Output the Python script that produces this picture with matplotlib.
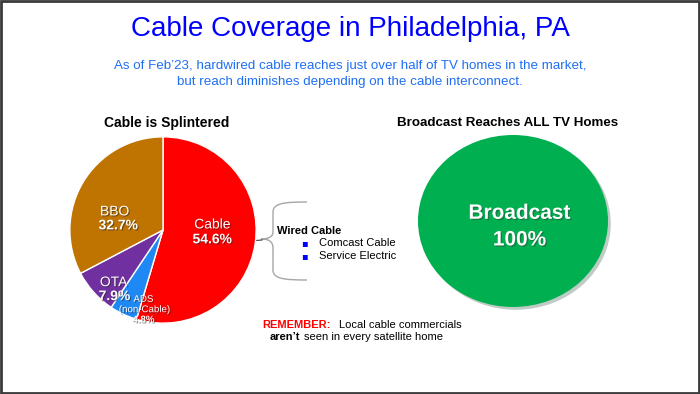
import matplotlib.pyplot as plt
import matplotlib.patheffects as pe
from matplotlib.patches import Rectangle, PathPatch
from matplotlib.path import Path

segments = ["Cable", "ADS", "OTA", "BBO"]
shares = [54.6, 4.8, 7.9, 32.7]
segment_colors = ["#FF0000", "#1E88F5", "#7030A0", "#BF7300"]
broadcast_share = [100]
wired_systems = ["Comcast Cable", "Service Electric"]

W, H = 700, 394
plt.rcParams["font.family"] = ["Liberation Sans", "DejaVu Sans"]

fig = plt.figure(figsize=(7, 3.94), dpi=100)

# background axes in pixel coords (y down)
bg = fig.add_axes([0, 0, 1, 1])
bg.set_xlim(0, W)
bg.set_ylim(H, 0)
bg.axis("off")
bg.add_patch(Rectangle((1, 1), W - 2, H - 2, fill=False, ec="#3a3a3a", lw=2))

bg.text(350, 29, "Cable Coverage in Philadelphia, PA", color="#0000FF",
        fontsize=20, ha="center", va="center")
bg.text(350, 74, "As of Feb\u201923, hardwired cable reaches just over half of TV homes in the market,\n"
        "but reach diminishes depending on the cable interconnect.",
        color="#1F6FF2", fontsize=9.6, ha="center", va="center", linespacing=1.35)

bg.text(167, 123, "Cable is Splintered", fontsize=10, fontweight="bold", ha="center", va="center")
bg.text(508, 123, "Broadcast Reaches ALL TV Homes", fontsize=9.6, fontweight="bold", ha="center", va="center")

# pie
pax = fig.add_axes([68 / W, (H - 325) / H, 190 / W, 190 / H])
wedges, _ = pax.pie(shares, colors=segment_colors, startangle=90, counterclock=False,
                    radius=1, wedgeprops=dict(edgecolor="white", linewidth=1))
pax.set_xlim(-1.02, 1.02)
pax.set_ylim(-1.02, 1.02)
pax.set_aspect("auto")

lbl_shadow = [pe.withSimplePatchShadow(offset=(0.8, -0.8), shadow_rgbFace="#222222", alpha=0.5)]
big = dict(color="white", ha="center", va="center", path_effects=lbl_shadow, clip_on=False)
pax.text(0.53, 0.06, segments[0], fontsize=10, **big)
pax.text(0.53, -0.1, f"{shares[0]}%", fontsize=10, fontweight="bold", **big)
pax.text(-0.52, 0.2, segments[3], fontsize=10, **big)
pax.text(-0.48, 0.05, f"{shares[3]}%", fontsize=10, fontweight="bold", **big)
pax.text(-0.53, -0.56, segments[2], fontsize=10, **big)
pax.text(-0.52, -0.71, f"{shares[2]}%", fontsize=10, fontweight="bold", **big)
pax.text(-0.21, -0.74, segments[1], fontsize=7, **big)
pax.text(-0.2, -0.85, "(non-Cable)", fontsize=7, **big)
pax.text(-0.21, -0.96, f"{shares[1]}%", fontsize=7, fontweight="bold", **big)

# bracket and leader line
verts = [(307, 202), (285, 202), (273, 203), (273, 212),
         (273, 232), (273, 237), (268, 239), (261, 239),
         (268, 239), (273, 241), (273, 248),
         (273, 270), (273, 279), (285, 280), (307, 280)]
codes = [Path.MOVETO, Path.CURVE4, Path.CURVE4, Path.CURVE4,
         Path.LINETO, Path.CURVE4, Path.CURVE4, Path.CURVE4,
         Path.CURVE4, Path.CURVE4, Path.CURVE4,
         Path.LINETO, Path.CURVE4, Path.CURVE4, Path.CURVE4]
bg.add_patch(PathPatch(Path(verts, codes), fill=False, ec="#A6A6A6", lw=1, zorder=5))
bg.plot([237, 262], [242, 240], color="#404040", lw=0.8, zorder=5)

bg.text(277, 231, "Wired Cable", fontsize=8, fontweight="bold", va="center")
for i, name in enumerate(wired_systems):
    y = 243 + 13 * i
    bg.text(304, y, "\u25aa", fontsize=7, color="#0000FF", va="center", ha="center",
            family="DejaVu Sans")
    bg.text(319, y, name, fontsize=8, va="center")

# reminder note, pieces chained after each other
t1 = bg.text(262, 325, "REMEMBER:", fontsize=8, fontweight="bold", color="#FF0000", va="center")
bg.annotate("Local cable commercials", xy=(1, 0.5), xycoords=t1, xytext=(6, 0),
            textcoords="offset points", fontsize=8, va="center")
t2 = bg.text(270, 337, "aren\u2019t", fontsize=8, fontweight="bold", va="center")
bg.annotate("seen in every satellite home", xy=(1, 0.5), xycoords=t2, xytext=(2.5, 0),
            textcoords="offset points", fontsize=8, va="center")

# broadcast
bax = fig.add_axes([418 / W, (H - 307) / H, 190 / W, 172 / H])
bw, _ = bax.pie(broadcast_share, colors=["#00B050"], radius=1)
bw[0].set_path_effects([pe.SimplePatchShadow(offset=(2, -2), alpha=0.25), pe.Normal()])
bax.set_xlim(-1.0, 1.0)
bax.set_ylim(-1.0, 1.0)
bax.set_aspect("auto")
txt_shadow = [pe.withSimplePatchShadow(offset=(1, -1), shadow_rgbFace="#333333", alpha=0.4)]
bax.text(0.07, 0.09, "Broadcast", fontsize=15, fontweight="bold", color="white",
         ha="center", va="center", path_effects=txt_shadow)
bax.text(0.07, -0.22, f"{broadcast_share[0]}%", fontsize=15, fontweight="bold", color="white",
         ha="center", va="center", path_effects=txt_shadow)

fig.savefig("out.png", dpi=100)
